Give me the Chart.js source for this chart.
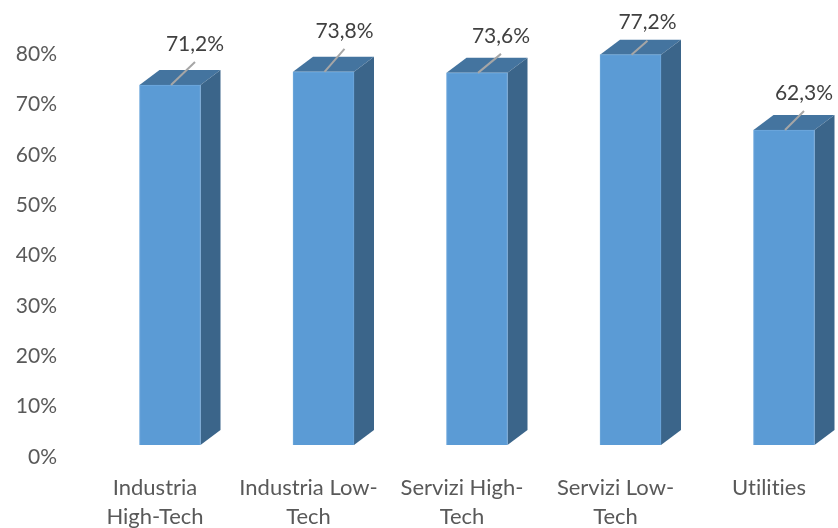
<!DOCTYPE html>
<html>
<head>
<meta charset="utf-8">
<style>
  html, body { margin: 0; padding: 0; background: #fff; }
  canvas { display: block; }
</style>
<script src="https://cdn.jsdelivr.net/npm/chart.js@4"></script>
</head>
<body>
<canvas id="myChart" width="838" height="528"></canvas>
<script>
const categories = [
  ['Industria', 'High-Tech'],
  ['Industria Low-', 'Tech'],
  ['Servizi High-', 'Tech'],
  ['Servizi Low-', 'Tech'],
  'Utilities'
];
const values = [71.2, 73.8, 73.6, 77.2, 62.3];
const yTicks = [0, 10, 20, 30, 40, 50, 60, 70, 80];

const fontFamily = 'Lato, "Open Sans", sans-serif';
const depthX = 20;
const depthY = 15;
// where each label sits relative to the top of its bar
const labelShift = [[25, -41], [21, -41], [24, -37], [17, -32], [20, -37]];

const fmt = v => v.toFixed(1).replace('.', ',') + '%';

function poly(ctx, pts, color) {
  ctx.fillStyle = color;
  ctx.beginPath();
  pts.forEach((p, i) => (i ? ctx.lineTo(p[0], p[1]) : ctx.moveTo(p[0], p[1])));
  ctx.closePath();
  ctx.fill();
}

const bar3d = {
  id: 'bar3d',
  beforeDraw(chart) {
    // no "ti" ligature from Lato
    chart.ctx.textRendering = 'optimizeSpeed';
  },
  beforeDatasetsDraw(chart) {
    const ctx = chart.ctx;
    chart.getDatasetMeta(0).data.forEach(bar => {
      const l = bar.x - bar.width / 2;
      const r = bar.x + bar.width / 2;
      const t = bar.y;
      const b = bar.base;
      poly(ctx, [[l, t], [l + depthX, t - depthY], [r + depthX, t - depthY], [r, t]], '#44749f');
      poly(ctx, [[r, t], [r + depthX, t - depthY], [r + depthX, b - depthY], [r, b]], '#3b658a');
    });
  },
  afterDatasetsDraw(chart) {
    const ctx = chart.ctx;
    ctx.save();
    ctx.font = '21px ' + fontFamily;
    ctx.textAlign = 'center';
    ctx.textBaseline = 'middle';
    chart.getDatasetMeta(0).data.forEach((bar, i) => {
      const [dx, dy] = labelShift[i];
      // leader line
      ctx.strokeStyle = '#a6a6a6';
      ctx.lineWidth = 2;
      ctx.beginPath();
      ctx.moveTo(bar.x + 1, bar.y);
      ctx.lineTo(bar.x + dx, bar.y + dy + 18);
      ctx.stroke();
      ctx.fillStyle = '#404040';
      ctx.fillText(fmt(values[i]), bar.x + dx, bar.y + dy);
    });
    ctx.restore();
  }
};

new Chart(document.getElementById('myChart').getContext('2d'), {
  type: 'bar',
  data: {
    labels: categories,
    datasets: [{
      data: values,
      yAxisID: 'yBars',
      backgroundColor: '#5b9bd5',
      borderColor: '#6fa8dc',
      borderWidth: 1,
      barThickness: 61,
      clip: false
    }]
  },
  plugins: [bar3d],
  options: {
    responsive: false,
    animation: false,
    layout: { padding: { top: 54, left: 0, right: 54, bottom: 0 } },
    plugins: {
      legend: { display: false },
      title: { display: false },
      tooltip: { enabled: false }
    },
    scales: {
      x: {
        offset: false,
        grid: { display: false },
        border: { display: false },
        afterFit(scale) { scale.height = 71; },
        ticks: {
          color: '#595959',
          font: { family: fontFamily, size: 22, lineHeight: 1.32 },
          labelOffset: -15,
          padding: 8,
          autoSkip: false,
          maxRotation: 0,
          minRotation: 0
        }
      },
      y: {
        position: 'left',
        min: yTicks[0],
        max: yTicks[yTicks.length - 1],
        grid: { display: false },
        border: { display: false },
        afterFit(scale) {
          scale.width = 170;
          // big tick padding would otherwise shrink the plot vertically
          scale.paddingTop = 0;
          scale.paddingBottom = 0;
        },
        afterBuildTicks(scale) { scale.ticks = yTicks.map(value => ({ value })); },
        ticks: {
          color: '#595959',
          font: { family: fontFamily, size: 21 },
          padding: 105,
          callback: v => v + '%'
        }
      },
      // the front of the 3D bars stands a little above the axis zero
      yBars: {
        display: false,
        min: -2.37,
        max: 77.33
      }
    }
  }
});
</script>
</body>
</html>
